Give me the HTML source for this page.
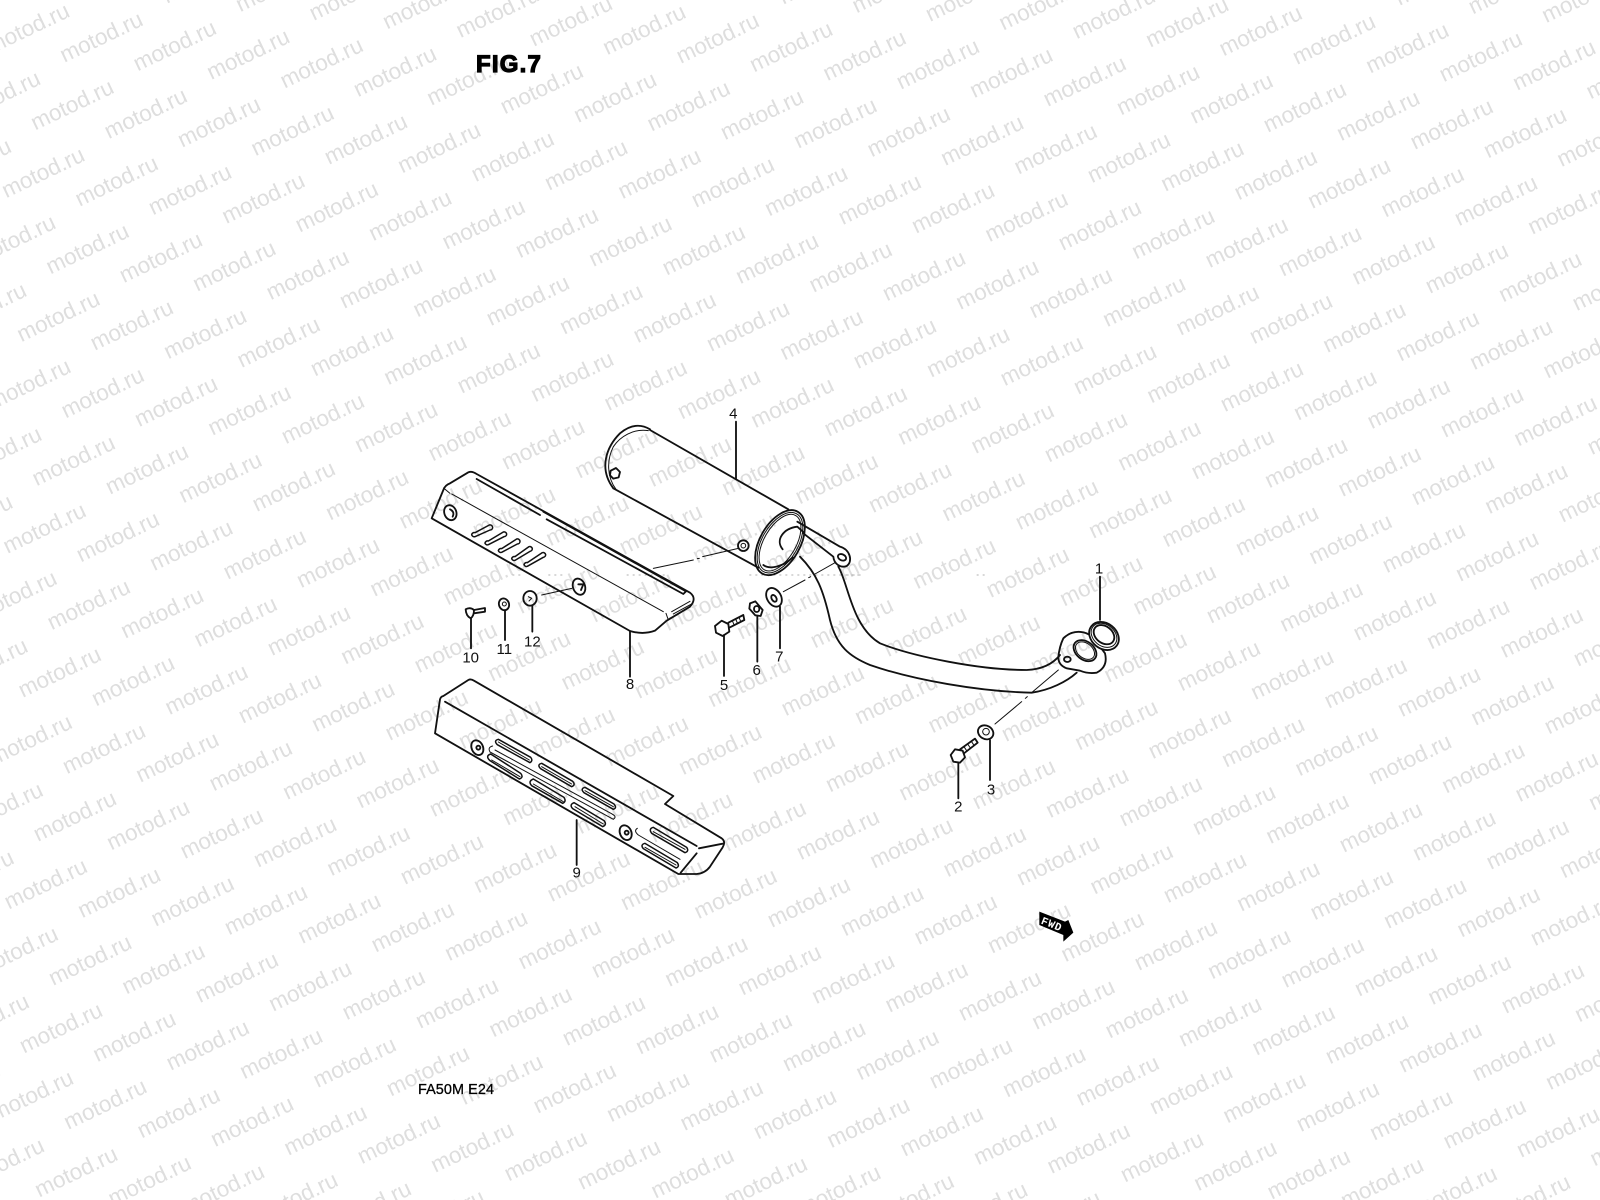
<!DOCTYPE html>
<html><head><meta charset="utf-8"><style>
html,body{margin:0;padding:0;background:#fff;width:1600px;height:1200px;overflow:hidden}
svg{display:block}
.w{font:22.5px "Liberation Sans",sans-serif;fill:#dedede}
.l{fill:none;stroke:#111;stroke-width:5.5;stroke-linecap:round;stroke-linejoin:round}
.t{stroke-width:3}
.s{stroke-width:4.5}
.d{fill:none;stroke:#999;stroke-width:2}
.n{font:45px "Liberation Sans",sans-serif;fill:#111;text-anchor:middle}
</style></head><body>
<svg width="1600" height="1200" viewBox="0 0 1600 1200">
<rect width="1600" height="1200" fill="#fff"/>
<defs>
<text id="w" class="w" transform="rotate(-25.5)">motod.ru</text>
<g id="a"><use href="#w"/><use href="#w" x="73.4" y="8.6"/><use href="#w" x="146.8" y="17.2"/><use href="#w" x="220.2" y="25.8"/></g>
<g id="b"><use href="#a"/><use href="#a" x="293.6" y="34.4"/><use href="#a" x="587.2" y="68.8"/><use href="#a" x="880.8" y="103.2"/><use href="#a" x="1174.4" y="137.6"/></g>
<g id="r"><use href="#b"/><use href="#b" x="1468" y="172"/></g>
<g id="v"><use href="#r"/><use href="#r" x="-29.1" y="67.7"/><use href="#r" x="-58.2" y="135.4"/><use href="#r" x="-87.3" y="203.1"/><use href="#r" x="-116.4" y="270.8"/></g>
</defs>
<g transform="translate(-538 -150)"><use href="#v"/><use href="#v" x="-145.5" y="338.5"/><use href="#v" x="-291" y="677"/><use href="#v" x="-436.5" y="1015.5"/><use href="#v" x="-582" y="1354"/><use href="#v" x="145.5" y="-338.5"/></g>

<g transform="translate(400 400) scale(.33333)">
<!-- scan specks -->
<path class="d" stroke-dasharray="6 12" d="M337,525H370M445,525H490M680,525H800M1048,525H1385"/>
<!-- muffler -->
<path class="l" d="M750,88C720,70 690,75 660,100C620,140 595,205 640,265"/>
<path class="l t" d="M745,92C700,85 660,110 640,140C620,180 620,230 648,268"/>
<path class="l" d="M750,90L1165,328M640,265L1075,503"/>
<path class="l" d="M632,212L648,204L660,216L656,232L640,236L630,226Z"/>
<ellipse class="l" cx="1140" cy="428" rx="107" ry="60" transform="rotate(-60 1140 428)"/>
<ellipse class="l t" cx="1140" cy="428" rx="100" ry="54" transform="rotate(-60 1140 428)"/>
<ellipse class="l t" cx="1140" cy="428" rx="94" ry="48" transform="rotate(-60 1140 428)"/>
<path class="l" d="M1090,495C1110,510 1150,500 1178,472"/>
<!-- tube and tab -->
<path class="l" d="M1148,448C1125,420 1150,385 1192,380L1212,398M1192,365L1320,440C1350,448 1360,485 1340,498C1322,505 1302,492 1300,470L1210,400"/>
<ellipse class="l" cx="1326" cy="472" rx="13" ry="9" transform="rotate(25 1326 472)"/>
<!-- dash-dot leaders -->
<path class="l t" d="M760,505L880,480M892,476L898,475M908,470L1015,445M1150,575L1215,540M1226,533L1232,530M1245,522L1305,488M425,585L515,565"/>
<circle class="l" cx="1030" cy="437" r="16"/><circle class="l t" cx="1030" cy="437" r="7"/>
<!-- shield 8 -->
<path class="l" d="M95,355L130,270Q135,255 150,250L205,217Q215,212 230,222L870,578Q892,595 870,620L800,662L765,692Q730,705 690,693Z"/>
<path class="l" d="M230,237L420,345M440,358L850,582L858,574L430,335"/>
<path class="l t" d="M155,282L790,635M150,280L132,265M815,635L870,604M820,642L875,612M798,640L805,660"/>
<path class="l s" d="M225,398L268,375A8,8 0 0 1 278,383A8,8 0 0 1 270,390L225,410A8,8 0 0 1 215,404A8,8 0 0 1 225,398Z"/>
<path class="l s" d="M265,423L310,396A8,8 0 0 1 320,402A8,8 0 0 1 312,410L265,434A8,8 0 0 1 255,430A8,8 0 0 1 265,423Z"/>
<path class="l s" d="M305,446L350,417A8,8 0 0 1 360,424A8,8 0 0 1 352,432L305,457A8,8 0 0 1 295,452A8,8 0 0 1 305,446Z"/>
<path class="l s" d="M345,470L387,440A8,8 0 0 1 397,446A8,8 0 0 1 390,454L345,481A8,8 0 0 1 335,476A8,8 0 0 1 345,470Z"/>
<path class="l s" d="M382,488L427,458A8,8 0 0 1 437,464A8,8 0 0 1 430,472L382,499A8,8 0 0 1 372,494A8,8 0 0 1 382,488Z"/>
<ellipse class="l" cx="151" cy="338" rx="18" ry="23" transform="rotate(-20 151 338)"/>
<path class="l" d="M150,328Q165,335 158,350"/>
<ellipse class="l" cx="537" cy="560" rx="18" ry="25" transform="rotate(-20 537 560)"/>
<path class="l" d="M535,553H550L543,570"/>
<!-- washers / fasteners -->
<ellipse class="l" cx="1122" cy="592" rx="21" ry="30" transform="rotate(-30 1122 592)"/>
<ellipse class="l" cx="1122" cy="595" rx="7" ry="11" transform="rotate(-30 1122 595)"/>
<path class="l" d="M1050,610L1066,604L1088,630L1082,648L1066,646L1048,626Z"/>
<ellipse class="l" cx="1070" cy="627" rx="8" ry="9"/>
<path class="l" d="M945,678L965,662L985,672L988,695L968,708L948,698Z"/>
<path class="l" d="M985,668L1030,645L1033,660L990,682"/>
<path class="l t" d="M997,662L1002,674M1007,657L1012,669M1017,652L1022,664"/>
<ellipse class="l" cx="390" cy="595" rx="20" ry="22"/><path class="l t" d="M385,590L395,595L387,603"/>
<ellipse class="l" cx="312" cy="613" rx="15" ry="18" transform="rotate(-20 312 613)"/><circle class="l t" cx="313" cy="612" r="6"/>
<path class="l" d="M197,628Q210,620 222,630Q222,648 212,655Q198,648 197,628Z"/>
<path class="l" d="M222,630L255,624L255,635L222,640"/>
<!-- leaders -->
<path class="l" d="M1008,65V236M1140,620V745M1072,650V785M972,705V828M690,695V830M397,617V695M315,630V720M213,655V745"/>
<text class="n" x="1000" y="55">4</text><text class="n" x="1138" y="785">7</text><text class="n" x="1070" y="825">6</text><text class="n" x="972" y="870">5</text><text class="n" x="690" y="867">8</text><text class="n" x="397" y="740">12</text><text class="n" x="313" y="762">11</text><text class="n" x="212" y="788">10</text>
</g>

<g transform="translate(400 670) scale(.33333)">
<path class="l" d="M105,190L120,88Q122,80 130,78L205,30Q212,26 222,32L820,378L795,402L965,505Q978,515 968,532L930,590Q915,610 890,612L835,612Z"/>
<path class="l" d="M135,95L890,528M897,535L968,521M890,550L842,608"/>
<path class="l s" d="M295,208L392,262Q400,272 390,278L292,224Q280,212 295,208Z"/>
<path class="l t" d="M295,216L388,270M425,290L515,342M555,362L640,410M275,270L360,320M400,342L490,395M525,410L610,462M760,485L855,538M735,532L828,585"/>
<path class="l s" d="M425,280L518,334Q528,345 515,350L422,296Q410,284 425,280Z"/>
<path class="l s" d="M555,352L642,402Q652,414 640,418L552,368Q540,356 555,352Z"/>
<path class="l s" d="M272,252L362,310Q372,322 358,327L270,272Q255,258 272,252Z"/>
<path class="l s" d="M400,327L492,382Q500,395 488,400L395,347Q383,334 400,327Z"/>
<path class="l s" d="M522,398L612,452Q622,464 608,470L518,416Q507,404 522,398Z"/>
<path class="l s" d="M760,472L860,532Q868,544 855,548L755,490Q745,476 760,472Z"/>
<path class="l s" d="M735,520L832,578Q840,590 828,594L730,536Q720,524 735,520Z"/>
<path class="l t" d="M278,228Q262,232 270,246L640,448Q652,440 636,432L285,240M712,475Q700,482 715,495L840,568"/>
<ellipse class="l" cx="232" cy="233" rx="17" ry="23" transform="rotate(-25 232 233)"/><circle class="l" cx="235" cy="233" r="6"/>
<ellipse class="l" cx="677" cy="488" rx="17" ry="23" transform="rotate(-25 677 488)"/><circle class="l" cx="680" cy="488" r="6"/>
<path class="l" d="M530,450V585"/>
<text class="n" x="530" y="622">9</text>
</g>

<g transform="translate(780 540) scale(.33333)">
<path class="l" d="M60,50C110,100 130,150 150,240C170,320 210,350 270,375C400,420 600,455 755,458C810,450 860,425 890,398"/>
<path class="l" d="M175,80C205,130 215,260 300,310C400,350 600,390 740,390C790,388 820,370 840,345"/>
<path class="l" d="M850,295C880,265 925,272 945,300L975,340Q985,380 950,398Q925,402 900,392L860,385Q835,375 835,352Q838,320 850,295Z"/>
<ellipse class="l" cx="915" cy="332" rx="38" ry="27" transform="rotate(38 915 332)"/>
<ellipse class="l t" cx="915" cy="332" rx="32" ry="22" transform="rotate(38 915 332)"/>
<ellipse class="l" cx="862" cy="358" rx="10" ry="8"/>
<ellipse class="l" style="fill:#fff" cx="972" cy="288" rx="48" ry="38" transform="rotate(38 972 288)"/>
<ellipse class="l t" cx="972" cy="286" rx="42" ry="32" transform="rotate(38 972 286)"/>
<ellipse class="l" cx="972" cy="284" rx="34" ry="25" transform="rotate(38 972 284)"/>
<path class="l t" d="M835,390L755,458M742,470L736,475M725,485L645,552"/>
<ellipse class="l" cx="617" cy="577" rx="24" ry="20" transform="rotate(30 617 577)"/><circle class="l t" cx="618" cy="575" r="10"/>
<path class="l" d="M512,645L525,628L548,632L555,652L540,668L520,665Z"/>
<path class="l" d="M540,628L585,596L593,608L552,640"/>
<path class="l t" d="M552,620L560,632M563,612L571,624M574,604L582,616"/>
<path class="l" d="M960,110V240M630,600V720M535,670V775"/>
<text class="n" x="957" y="100">1</text><text class="n" x="633" y="763">3</text><text class="n" x="535" y="815">2</text>
<path class="d" stroke-dasharray="6 12" d="M200,105H245M590,105H615"/>
</g>

<text x="476" y="72" style="font:900 24px 'Liberation Sans',sans-serif;letter-spacing:1.2px;fill:#000;stroke:#000;stroke-width:1.2">FIG.7</text>
<text x="418" y="1094" textLength="76" style="font:14.4px 'Liberation Sans',sans-serif;fill:#000;stroke:#000;stroke-width:.3">FA50M E24</text>

<g transform="translate(1000 880) scale(.33333)">
<path fill="#000" d="M118,95L195,125L205,120L220,158L190,185L190,165L118,135Z"/>
<text x="0" y="0" transform="translate(121 130) rotate(22)" style="font:bold 33px 'Liberation Mono',monospace;fill:#fff;letter-spacing:2px">FWD</text>
</g>
</svg>
</body></html>
